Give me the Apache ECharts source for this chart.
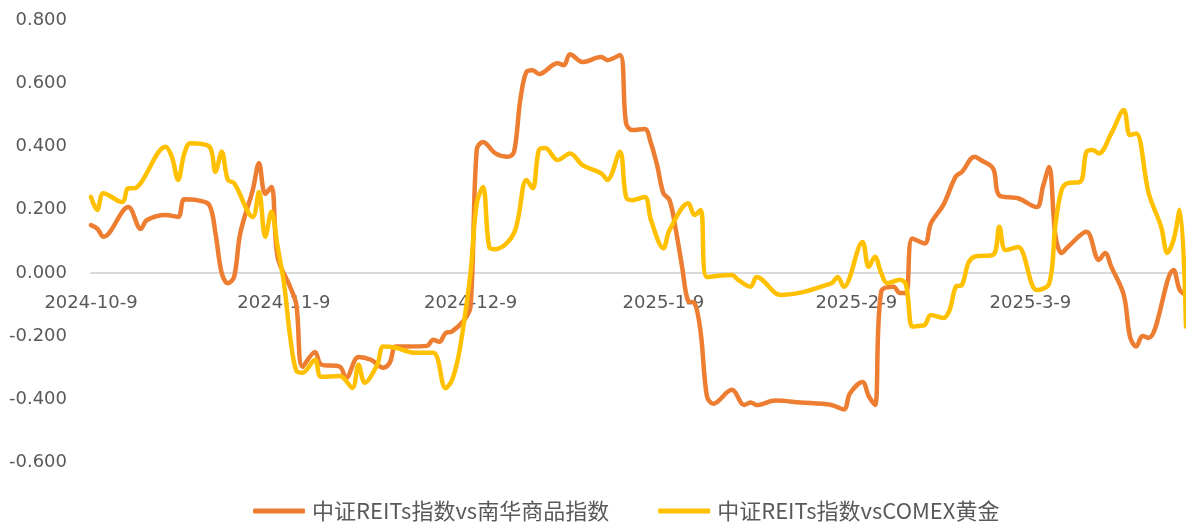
<!DOCTYPE html>
<html><head><meta charset="utf-8">
<script src="https://cdn.jsdelivr.net/npm/echarts@6/dist/echarts.min.js"></script>
<style>html,body{margin:0;padding:0;background:#fff}#c{width:1186px;height:524px}</style>
</head><body><div id="c"></div>
<script>
const startDate = '2024-10-9';
const endDate = '2025-4-3';
const seriesNames = ['中证REITs指数vs南华商品指数', '中证REITs指数vsCOMEX黄金'];
const yMin = -0.6, yMax = 0.8, yStep = 0.2;

const nanhuaDates = ['2024-10-9','2024-10-10','2024-10-11','2024-10-15','2024-10-17','2024-10-18','2024-10-21','2024-10-23','2024-10-24','2024-10-26','2024-10-28','2024-10-29','2024-10-30','2024-10-31','2024-11-1','2024-11-2','2024-11-4','2024-11-5','2024-11-6','2024-11-7','2024-11-8','2024-11-10','2024-11-11','2024-11-12','2024-11-14','2024-11-15','2024-11-18','2024-11-19','2024-11-21','2024-11-23','2024-11-25','2024-11-26','2024-11-27','2024-11-29','2024-12-2','2024-12-3','2024-12-4','2024-12-5','2024-12-6','2024-12-8','2024-12-9','2024-12-10','2024-12-11','2024-12-13','2024-12-15','2024-12-16','2024-12-17','2024-12-18','2024-12-19','2024-12-20','2024-12-23','2024-12-24','2024-12-25','2024-12-27','2024-12-30','2024-12-31','2025-1-2','2025-1-3','2025-1-4','2025-1-6','2025-1-7','2025-1-8','2025-1-9','2025-1-10','2025-1-11','2025-1-12','2025-1-13','2025-1-14','2025-1-15','2025-1-16','2025-1-17','2025-1-20','2025-1-22','2025-1-23','2025-1-24','2025-1-27','2025-1-31','2025-2-5','2025-2-7','2025-2-8','2025-2-10','2025-2-11','2025-2-12','2025-2-13','2025-2-15','2025-2-16','2025-2-17','2025-2-18','2025-2-20','2025-2-21','2025-2-23','2025-2-25','2025-2-26','2025-2-28','2025-3-1','2025-3-3','2025-3-4','2025-3-7','2025-3-10','2025-3-11','2025-3-12','2025-3-13','2025-3-14','2025-3-15','2025-3-18','2025-3-20','2025-3-21','2025-3-22','2025-3-24','2025-3-25','2025-3-26','2025-3-27','2025-3-28','2025-4-1','2025-4-2','2025-4-3'];
const nanhuaValues = [0.151,0.14,0.114,0.208,0.139,0.167,0.183,0.177,0.233,0.23,0.215,0.126,0.0,-0.033,-0.013,0.126,0.262,0.347,0.25,0.272,0.05,-0.044,-0.1,-0.297,-0.25,-0.29,-0.297,-0.333,-0.266,-0.275,-0.3,-0.285,-0.233,-0.233,-0.231,-0.212,-0.218,-0.19,-0.186,-0.149,-0.107,0.39,0.414,0.378,0.367,0.383,0.547,0.636,0.641,0.629,0.663,0.657,0.692,0.667,0.683,0.673,0.689,0.474,0.452,0.455,0.41,0.34,0.252,0.23,0.136,0.02,-0.09,-0.095,-0.19,-0.39,-0.414,-0.37,-0.418,-0.41,-0.418,-0.404,-0.41,-0.418,-0.432,-0.381,-0.345,-0.39,-0.418,-0.06,-0.044,-0.064,-0.064,0.109,0.093,0.157,0.215,0.305,0.32,0.367,0.357,0.33,0.245,0.236,0.208,0.272,0.335,0.12,0.063,0.082,0.13,0.041,0.063,0.019,-0.07,-0.202,-0.233,-0.2,-0.206,0.009,-0.054,-0.07];

const goldDates = ['2024-10-9','2024-10-10','2024-10-11','2024-10-14','2024-10-15','2024-10-16','2024-10-17','2024-10-21','2024-10-22','2024-10-23','2024-10-24','2024-10-25','2024-10-28','2024-10-29','2024-10-30','2024-10-31','2024-11-1','2024-11-4','2024-11-5','2024-11-6','2024-11-7','2024-11-8','2024-11-9','2024-11-10','2024-11-11','2024-11-12','2024-11-14','2024-11-15','2024-11-18','2024-11-20','2024-11-21','2024-11-22','2024-11-24','2024-11-25','2024-11-27','2024-11-30','2024-12-3','2024-12-5','2024-12-6','2024-12-7','2024-12-8','2024-12-9','2024-12-10','2024-12-11','2024-12-12','2024-12-13','2024-12-16','2024-12-18','2024-12-19','2024-12-20','2024-12-21','2024-12-23','2024-12-25','2024-12-27','2024-12-30','2024-12-31','2025-1-2','2025-1-3','2025-1-4','2025-1-6','2025-1-7','2025-1-9','2025-1-10','2025-1-13','2025-1-14','2025-1-15','2025-1-16','2025-1-20','2025-1-21','2025-1-23','2025-1-24','2025-1-27','2025-1-28','2025-2-5','2025-2-6','2025-2-7','2025-2-10','2025-2-11','2025-2-12','2025-2-13','2025-2-14','2025-2-16','2025-2-17','2025-2-18','2025-2-19','2025-2-20','2025-2-21','2025-2-23','2025-2-24','2025-2-25','2025-2-26','2025-2-27','2025-2-28','2025-3-3','2025-3-4','2025-3-5','2025-3-7','2025-3-10','2025-3-12','2025-3-13','2025-3-14','2025-3-15','2025-3-17','2025-3-18','2025-3-19','2025-3-20','2025-3-22','2025-3-24','2025-3-25','2025-3-26','2025-3-28','2025-3-30','2025-3-31','2025-4-1','2025-4-2','2025-4-3'];
const goldValues = [0.24,0.199,0.252,0.224,0.268,0.268,0.284,0.399,0.367,0.294,0.378,0.41,0.4,0.32,0.383,0.294,0.284,0.177,0.256,0.114,0.193,0.082,-0.03,-0.2,-0.31,-0.316,-0.275,-0.329,-0.326,-0.364,-0.291,-0.348,-0.291,-0.233,-0.237,-0.253,-0.253,-0.365,-0.34,-0.27,-0.15,0.0,0.22,0.272,0.082,0.075,0.126,0.294,0.268,0.389,0.395,0.357,0.378,0.341,0.315,0.294,0.383,0.24,0.23,0.24,0.167,0.078,0.136,0.22,0.183,0.199,-0.013,-0.007,-0.022,-0.044,-0.013,-0.064,-0.07,-0.033,-0.013,-0.044,0.098,0.019,0.051,0.0,-0.033,-0.022,-0.038,-0.17,-0.168,-0.165,-0.133,-0.143,-0.118,-0.044,-0.038,0.03,0.051,0.057,0.146,0.072,0.082,-0.054,-0.035,0.15,0.262,0.284,0.288,0.383,0.389,0.378,0.441,0.515,0.436,0.441,0.252,0.146,0.063,0.104,0.2,-0.17];

function parseD(s){const p=s.split('-').map(Number);return Date.UTC(p[0],p[1]-1,p[2]);}
function fmtD(t){const d=new Date(t);return d.getUTCFullYear()+'-'+(d.getUTCMonth()+1)+'-'+d.getUTCDate();}
const categories = [];
for (let t = parseD(startDate); t <= parseD(endDate); t += 86400000) categories.push(fmtD(t));
function toSeries(dates, values){
  const arr = categories.map(() => null);
  dates.forEach((d, i) => { const k = categories.indexOf(d); if (k >= 0) arr[k] = values[i]; });
  return arr;
}

const gridTop = 20, gridBottom = 61.5, H = 524;
const plotH = H - gridTop - gridBottom;
const zeroOffset = plotH * (0 - yMin) / (yMax - yMin);

const chart = echarts.init(document.getElementById('c'), null, {renderer: 'canvas'});
chart.setOption({
  animation: false,
  backgroundColor: '#ffffff',
  grid: {left: 91, right: 0, top: gridTop, bottom: gridBottom, containLabel: false},
  legend: {
    left: 248, top: 495,
    itemWidth: 52, itemHeight: 5, itemGap: 49,
    icon: 'roundRect',
    textStyle: {fontFamily: 'Noto Sans CJK SC', fontSize: 22, color: '#595959', padding: [0,0,0,2]},
    data: seriesNames
  },
  xAxis: {
    type: 'category',
    data: categories,
    boundaryGap: false,
    offset: -zeroOffset,
    axisLine: {onZero: false, lineStyle: {color: '#d9d9d9', width: 2}},
    axisTick: {show: false},
    splitLine: {show: false},
    axisLabel: {
      interval: (idx, val) => val.endsWith('-9'),
      margin: 21,
      fontFamily: 'DejaVu Sans', fontSize: 18, color: '#595959'
    }
  },
  yAxis: {
    type: 'value',
    min: yMin, max: yMax, interval: yStep,
    axisLine: {show: false},
    axisTick: {show: false},
    splitLine: {show: false},
    axisLabel: {
      margin: 24,
      formatter: v => v.toFixed(3),
      fontFamily: 'DejaVu Sans', fontSize: 18, color: '#595959'
    }
  },
  series: [
    {name: seriesNames[0], type: 'line', data: toSeries(nanhuaDates, nanhuaValues), connectNulls: true,
     smooth: 0.35, showSymbol: false, symbol: 'none', itemStyle: {color: '#ED7D31'},
     lineStyle: {color: '#ED7D31', width: 4.5, cap: 'round', join: 'round'}},
    {name: seriesNames[1], type: 'line', data: toSeries(goldDates, goldValues), connectNulls: true,
     smooth: 0.35, showSymbol: false, symbol: 'none', itemStyle: {color: '#FFC000'},
     lineStyle: {color: '#FFC000', width: 4.5, cap: 'round', join: 'round'}}
  ]
});
</script></body></html>
